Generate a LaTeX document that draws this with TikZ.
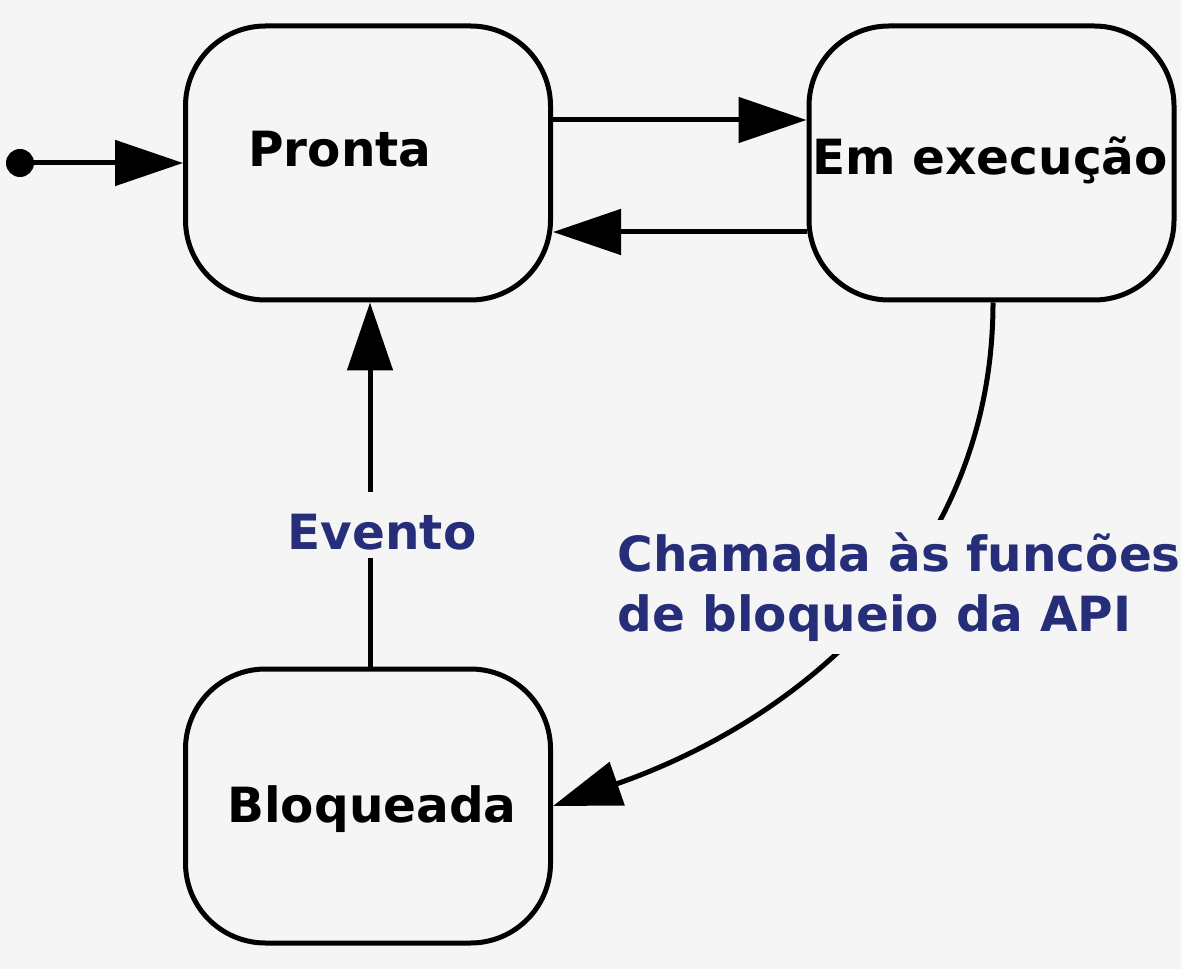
\documentclass[tikz,border=0pt]{standalone}
\usepackage{fontspec}
\setmainfont{DejaVu Sans}
\usetikzlibrary{arrows.meta}
\definecolor{bg}{RGB}{245,245,245}
\definecolor{lbl}{RGB}{38,46,122}
\begin{document}
\begin{tikzpicture}[
  every node/.style={font=\bfseries\fontsize{27.6}{34.1}\selectfont},
  statebox/.style={draw=black, line width=0.1cm, rounded corners=1.6cm,
    minimum width=7.3cm, minimum height=5.48cm, inner sep=0pt},
  arr/.style={line width=0.1cm, -{Triangle[length=1.36cm,width=0.9cm]}},
  stxt/.style={anchor=base, inner sep=0pt},
  elbl/.style={text=lbl, fill=bg, inner sep=0pt}
]
\fill[bg] (0,0) rectangle (23.62,-19.38);
\useasboundingbox (0,0) rectangle (23.62,-19.38);

\node[statebox] (pronta) at (7.36,-3.26) {};
\node[statebox] (exec) at (19.83,-3.26) {};
\node[statebox] (bloq) at (7.36,-16.12) {};

\node[stxt] (prontaT) at (6.8,-3.34) {Pronta};
\node[stxt] (execT) at (19.8,-3.5) {Em execução};
\node[stxt] (bloqT) at (7.44,-16.44) {Bloqueada};

\fill (0.4,-3.26) circle (0.28cm);
\coordinate (init) at (0.4,-3.26);
\draw[arr] (init) -- (pronta.west);

\draw[arr] ([yshift=0.86cm]pronta.east) -- ([yshift=0.86cm]exec.west);
\draw[arr] ([yshift=-1.38cm]exec.west) -- ([yshift=-1.38cm]pronta.east);

\draw[arr] ([xshift=0.04cm]bloq.north) -- ([xshift=0.04cm]pronta.south);
\node[elbl, anchor=base, text height=1.14cm, text depth=0.18cm] (evento) at (7.64,-10.98) {Evento};

\draw[arr] ([xshift=0.03cm]exec.south) .. controls +(0,-5.16) and +(4.94,1.72) .. (bloq.east);
\node[elbl, anchor=north west, align=left, inner xsep=0.05cm, inner ysep=0.25cm] (chamada) at (12.3,-10.4)
  {Chamada às funcões\\de bloqueio da API};
\end{tikzpicture}
\end{document}
